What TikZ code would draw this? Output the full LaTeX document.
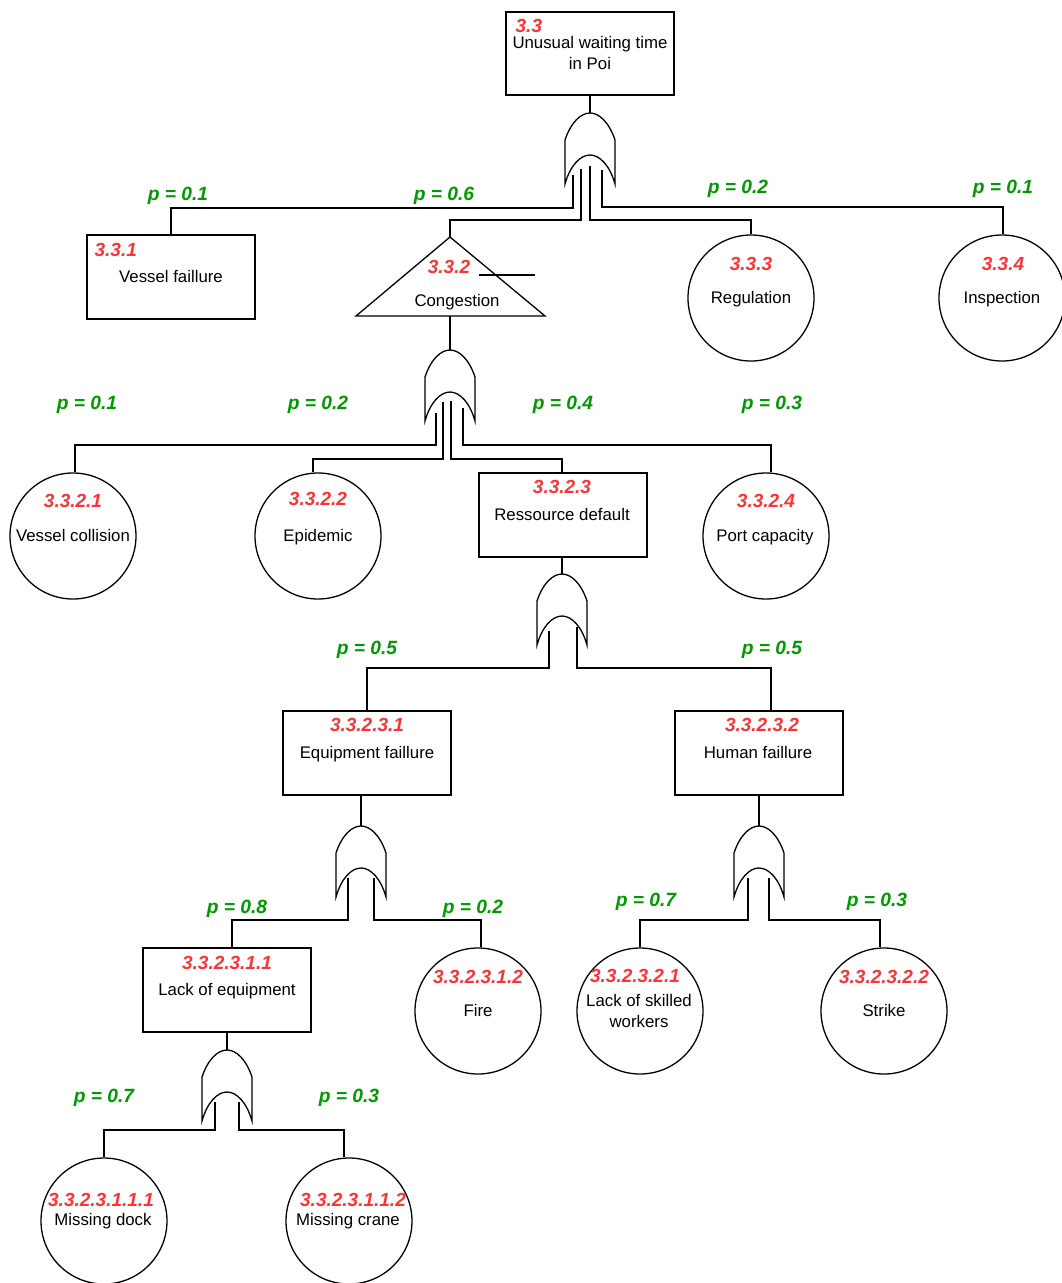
\documentclass[tikz,border=0pt]{standalone}
\usepackage{fontspec}
\setmainfont{Liberation Sans}
\definecolor{myred}{RGB}{255,51,51}
\definecolor{mygreen}{RGB}{0,153,0}
\begin{document}
\begin{tikzpicture}[x=1pt,y=-1pt,line width=1.3pt,
  txt/.style={font=\fontsize{16.8}{19}\selectfont, anchor=base, inner sep=0pt, text=black},
  idl/.style={font=\fontsize{19}{20}\selectfont\bfseries\itshape, text=myred, anchor=base, inner sep=0pt},
  prob/.style={font=\fontsize{19.2}{20}\selectfont\bfseries\itshape, text=mygreen, anchor=base, inner sep=0pt},
  evbox/.style={draw, rectangle, minimum width=168pt, minimum height=84pt, inner sep=0pt},
  evcirc/.style={draw, circle, minimum size=126pt, inner sep=0pt},
  orgate/.pic={\draw (-25,27) .. controls (-19,9) and (-9,0) .. (0,0) .. controls (9,0) and (19,9) .. (25,27) -- (25,71) .. controls (20,53) and (10,42) .. (0,42) .. controls (-10,42) and (-20,53) .. (-25,71) -- cycle;}
]
\useasboundingbox (0,0) rectangle (1061,1283);

% ---------- event shapes ----------
\node[evbox, minimum height=83pt] (b33) at (590,53.5) {};
\node[evbox] (b331) at (171,277) {};
\node[evcirc] (c333) at (751,298) {};
\node[evcirc] (c334) at (1002,298) {};
\node[evcirc] (c3321) at (73,536) {};
\node[evcirc] (c3322) at (318,536) {};
\node[evbox] (b3323) at (563,515) {};
\node[evcirc] (c3324) at (766,536) {};
\node[evbox] (b33231) at (367,753) {};
\node[evbox] (b33232) at (759,753) {};
\node[evbox] (b332311) at (227,990) {};
\node[evcirc] (c332312) at (478,1011) {};
\node[evcirc] (c332321) at (640,1011) {};
\node[evcirc] (c332322) at (884,1011) {};
\node[evcirc] (c3323111) at (104,1221) {};
\node[evcirc] (c3323112) at (349,1221) {};

% triangle (transfer) 3.3.2
\coordinate (t332) at (450,237);
\coordinate (t332b) at (450,316);
\draw (t332) -- (545,316) -- (356,316) -- cycle;
\coordinate (tbarL) at (479,275);
\coordinate (tbarR) at (535,275);
\draw (tbarL) -- (tbarR);

% ---------- gates ----------
\coordinate (g1) at (590,113);  \pic at (g1) {orgate};
\coordinate (g2) at (450,350);  \pic at (g2) {orgate};
\coordinate (g3) at (562,574);  \pic at (g3) {orgate};
\coordinate (g4) at (361,826);  \pic at (g4) {orgate};
\coordinate (g5) at (759,826);  \pic at (g5) {orgate};
\coordinate (g6) at (227,1050); \pic at (g6) {orgate};

% gate inputs
\coordinate (g1a) at (573,175); \coordinate (g1b) at (581,169);
\coordinate (g1c) at (590,166); \coordinate (g1d) at (602,170);
\coordinate (g2a) at (436,413); \coordinate (g2b) at (443,402);
\coordinate (g2c) at (451,401); \coordinate (g2d) at (463,408);
\coordinate (g3a) at (549,631); \coordinate (g3b) at (577,627);
\coordinate (g4a) at (348,878); \coordinate (g4b) at (374,878);
\coordinate (g5a) at (748,878); \coordinate (g5b) at (769,878);
\coordinate (g6a) at (215,1102); \coordinate (g6b) at (239,1102);

% ---------- connectors ----------
\draw (b33.south) -- (g1);
\draw (g1a) |- (171,208) -- (b331.north);
\draw (g1b) |- (450,220) -- (t332);
\draw (g1c) |- (751,220) -- (c333.north);
\draw (g1d) |- (1003,207) -- (c334.north -| 1003,0);

\draw (t332b) -- (g2);
\draw (g2a) |- (75,445) -- (c3321.north -| 75,0);
\draw (g2b) |- (313,459) -- (c3322.north -| 313,0);
\draw (g2c) |- (562,459) -- (b3323.north -| 562,0);
\draw (g2d) |- (771,445) -- (c3324.north -| 771,0);

\draw (b3323.south -| g3) -- (g3);
\draw (g3a) |- (367,668) -- (b33231.north);
\draw (g3b) |- (771,668) -- (b33232.north -| 771,0);

\draw (b33231.south -| g4) -- (g4);
\draw (g4a) |- (232,920) -- (b332311.north -| 232,0);
\draw (g4b) |- (481,920) -- (c332312.north -| 481,0);

\draw (b33232.south) -- (g5);
\draw (g5a) |- (640,920) -- (c332321.north);
\draw (g5b) |- (880,920) -- (c332322.north -| 880,0);

\draw (b332311.south) -- (g6);
\draw (g6a) |- (104,1130) -- (c3323111.north);
\draw (g6b) |- (344,1130) -- (c3323112.north -| 344,0);

% ---------- identifiers ----------
\node[idl, anchor=base west] (i33) at (515,32) {3.3};
\node[idl, anchor=base west] (i331) at (94,256) {3.3.1};
\node[idl] (i332) at (449,273) {3.3.2};
\node[idl] (i333) at (751,270) {3.3.3};
\node[idl] (i334) at (1003,270) {3.3.4};
\node[idl] (i3321) at (73,507) {3.3.2.1};
\node[idl] (i3322) at (318,505) {3.3.2.2};
\node[idl] (i3323) at (562,493) {3.3.2.3};
\node[idl] (i3324) at (766,507) {3.3.2.4};
\node[idl] (i33231) at (367,731) {3.3.2.3.1};
\node[idl] (i33232) at (762,731) {3.3.2.3.2};
\node[idl] (i332311) at (227,969) {3.3.2.3.1.1};
\node[idl] (i332312) at (478,983) {3.3.2.3.1.2};
\node[idl] (i332321) at (635,982) {3.3.2.3.2.1};
\node[idl] (i332322) at (884,983) {3.3.2.3.2.2};
\node[idl] (i3323111) at (101,1206) {3.3.2.3.1.1.1};
\node[idl] (i3323112) at (353,1206) {3.3.2.3.1.1.2};

% ---------- names ----------
\node[txt] (n33a) at (590,48) {Unusual waiting time};
\node[txt] (n33b) at (590,69) {in Poi};
\node[txt] (n331) at (171,282) {Vessel faillure};
\node[txt] (n332) at (457,306) {Congestion};
\node[txt] (n333) at (751,303) {Regulation};
\node[txt] (n334) at (1002,303) {Inspection};
\node[txt] (n3321) at (73,541) {Vessel collision};
\node[txt] (n3322) at (318,541) {Epidemic};
\node[txt] (n3323) at (562,520) {Ressource default};
\node[txt] (n3324) at (765,541) {Port capacity};
\node[txt] (n33231) at (367,758) {Equipment faillure};
\node[txt] (n33232) at (758,758) {Human faillure};
\node[txt] (n332311) at (227,995) {Lack of equipment};
\node[txt] (n332312) at (478,1016) {Fire};
\node[txt] (n332321a) at (639,1006) {Lack of skilled};
\node[txt] (n332321b) at (639,1027) {workers};
\node[txt] (n332322) at (884,1016) {Strike};
\node[txt] (n3323111) at (103,1225) {Missing dock};
\node[txt] (n3323112) at (348,1225) {Missing crane};

% ---------- probabilities ----------
\node[prob] (p1) at (178,200) {p = 0.1};
\node[prob] (p2) at (444,200) {p = 0.6};
\node[prob] (p3) at (738,193) {p = 0.2};
\node[prob] (p4) at (1003,193) {p = 0.1};
\node[prob] (p5) at (87,409) {p = 0.1};
\node[prob] (p6) at (318,409) {p = 0.2};
\node[prob] (p7) at (563,409) {p = 0.4};
\node[prob] (p8) at (772,409) {p = 0.3};
\node[prob] (p9) at (367,654) {p = 0.5};
\node[prob] (p10) at (772,654) {p = 0.5};
\node[prob] (p11) at (237,913) {p = 0.8};
\node[prob] (p12) at (473,913) {p = 0.2};
\node[prob] (p13) at (646,906) {p = 0.7};
\node[prob] (p14) at (877,906) {p = 0.3};
\node[prob] (p15) at (104,1102) {p = 0.7};
\node[prob] (p16) at (349,1102) {p = 0.3};
\end{tikzpicture}
\end{document}
